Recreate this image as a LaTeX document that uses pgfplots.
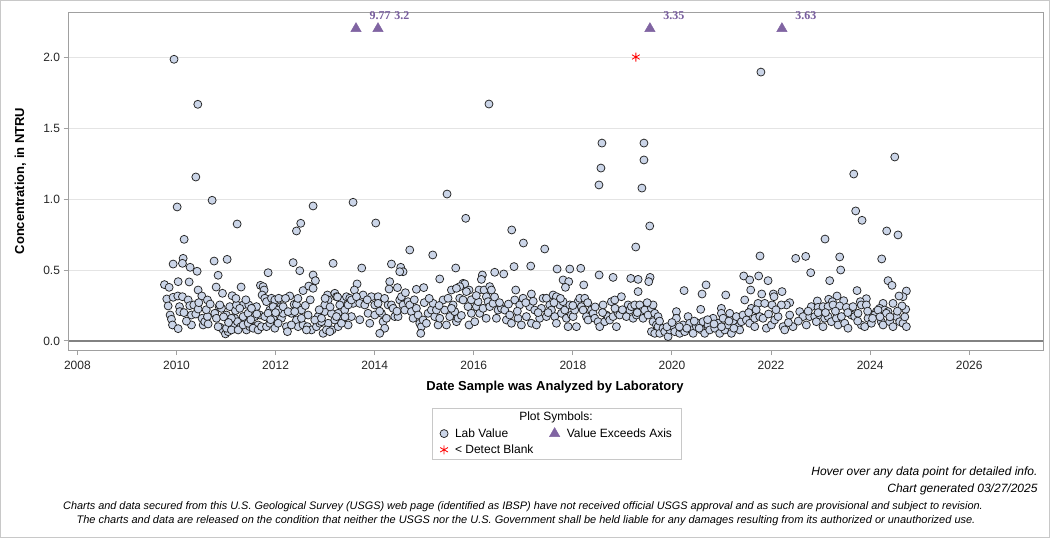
\documentclass[border=0pt]{standalone}
\usepackage{pgfplots}
\pgfplotsset{compat=1.18}
\usepackage{pgfplotstable}
\usepackage{fontspec}
\setmainfont{Liberation Sans}
\newfontfamily\serifbold{Liberation Serif}

\definecolor{labfill}{RGB}{203,213,232}
\definecolor{labedge}{RGB}{35,35,35}
\definecolor{exceed}{RGB}{128,100,162}
\definecolor{exceedtxt}{RGB}{120,94,158}
\definecolor{framegray}{RGB}{160,160,160}
\definecolor{gridgray}{RGB}{228,228,228}
\definecolor{zerogray}{RGB}{130,130,130}
\definecolor{boxgray}{RGB}{200,200,200}

% Lab values: decimal year of analysis, concentration (NTRU)
\pgfplotstableread{
year conc
2009.757 0.397
2009.851 0.378
2009.804 0.296
2009.831 0.247
2009.871 0.183
2009.898 0.153
2009.919 0.113
2009.932 0.308
2009.932 0.542
2009.950 1.984
2010.033 0.418
2010.026 0.317
2010.060 0.242
2010.067 0.207
2010.033 0.087
2010.013 0.944
2010.134 0.582
2010.120 0.547
2010.120 0.312
2010.154 0.716
2010.235 0.289
2010.255 0.416
2010.268 0.249
2010.302 0.183
2010.302 0.113
2010.275 0.519
2010.349 0.254
2010.416 0.491
2010.389 0.190
2010.390 1.155
2010.430 1.667
2010.436 0.225
2010.436 0.359
2010.511 0.317
2010.517 0.160
2010.538 0.113
2010.571 0.136
2010.625 0.289
2010.625 0.172
2010.638 0.120
2010.719 0.991
2010.759 0.563
2010.773 0.195
2010.800 0.380
2010.806 0.160
2010.840 0.463
2010.860 0.242
2010.880 0.097
2010.907 0.230
2010.928 0.336
2010.941 0.078
2010.988 0.050
2011.022 0.575
2011.042 0.066
2011.076 0.242
2011.123 0.319
2011.143 0.101
2011.176 0.160
2011.190 0.214
2011.224 0.824
2011.230 0.136
2011.298 0.101
2011.304 0.380
2011.345 0.254
2011.378 0.160
2011.412 0.078
2011.459 0.254
2011.479 0.101
2011.553 0.172
2011.580 0.101
2011.614 0.242
2011.647 0.113
2011.694 0.392
2011.748 0.383
2011.768 0.359
2011.728 0.324
2011.782 0.301
2011.816 0.277
2011.849 0.481
2011.883 0.218
2011.917 0.301
2011.950 0.160
2011.984 0.289
2012.064 0.301
2012.105 0.242
2012.118 0.160
2012.152 0.195
2012.219 0.101
2012.239 0.066
2012.286 0.317
2012.320 0.195
2012.354 0.552
2012.374 0.258
2012.421 0.258
2012.421 0.775
2012.421 0.148
2012.488 0.495
2012.508 0.829
2012.455 0.101
2012.555 0.113
2012.555 0.355
2012.522 0.218
2012.643 0.101
2012.670 0.387
2012.724 0.078
2012.757 0.951
2012.757 0.465
2012.757 0.371
2012.804 0.425
2012.824 0.101
2012.858 0.172
2012.892 0.125
2012.959 0.054
2012.993 0.207
2013.060 0.125
2013.047 0.324
2013.060 0.289
2013.141 0.078
2013.161 0.547
2013.195 0.148
2013.195 0.336
2013.228 0.312
2013.262 0.195
2013.329 0.289
2013.363 0.160
2013.430 0.312
2013.464 0.113
2013.497 0.301
2013.531 0.172
2013.565 0.265
2010.840 0.101
2011.008 0.090
2011.109 0.078
2011.244 0.078
2011.345 0.113
2011.446 0.125
2011.546 0.090
2011.647 0.078
2011.715 0.101
2011.816 0.101
2011.883 0.125
2011.984 0.090
2012.051 0.125
2012.320 0.113
2012.623 0.078
2012.926 0.136
2013.026 0.078
2013.094 0.066
2013.262 0.101
2013.329 0.125
2010.874 0.254
2011.008 0.183
2011.109 0.160
2011.210 0.254
2011.277 0.230
2011.345 0.172
2011.446 0.195
2011.513 0.230
2011.580 0.172
2011.681 0.183
2011.782 0.172
2011.849 0.195
2011.950 0.242
2012.051 0.218
2012.152 0.242
2012.253 0.207
2012.387 0.207
2012.522 0.160
2012.656 0.183
2012.791 0.148
2012.926 0.160
2012.993 0.254
2013.127 0.195
2013.228 0.172
2013.295 0.254
2013.396 0.218
2013.464 0.254
2013.564 0.977
2014.022 0.831
2015.461 1.035
2015.838 0.864
2016.307 1.669
2016.766 0.782
2017.002 0.690
2017.432 0.648
2014.708 0.641
2015.172 0.606
2014.338 0.542
2014.526 0.519
2014.573 0.488
2014.506 0.488
2013.739 0.514
2015.636 0.514
2016.813 0.524
2017.150 0.528
2016.423 0.484
2016.605 0.472
2016.174 0.465
2016.154 0.434
2015.313 0.437
2014.304 0.418
2014.291 0.366
2013.645 0.402
2013.591 0.359
2014.842 0.364
2014.990 0.376
2014.459 0.376
2015.784 0.406
2015.818 0.402
2015.717 0.383
2015.549 0.359
2015.650 0.371
2015.905 0.359
2016.107 0.359
2016.208 0.359
2016.322 0.383
2016.356 0.359
2016.847 0.359
2017.163 0.331
2017.399 0.301
2013.766 0.324
2013.934 0.312
2014.069 0.312
2014.002 0.254
2013.531 0.289
2013.632 0.312
2013.699 0.265
2013.800 0.254
2013.867 0.195
2013.901 0.125
2014.002 0.183
2014.069 0.265
2014.136 0.195
2014.170 0.136
2014.203 0.090
2014.102 0.054
2014.237 0.160
2014.271 0.254
2014.338 0.254
2014.372 0.230
2014.405 0.172
2014.472 0.172
2014.506 0.289
2014.540 0.312
2014.573 0.254
2014.607 0.218
2014.674 0.277
2014.708 0.254
2014.741 0.207
2014.775 0.160
2014.842 0.230
2014.876 0.183
2014.910 0.125
2014.943 0.101
2014.930 0.054
2014.977 0.148
2015.044 0.125
2015.078 0.195
2015.145 0.218
2015.179 0.265
2015.212 0.172
2015.246 0.218
2015.280 0.113
2015.313 0.160
2015.381 0.289
2015.414 0.218
2015.448 0.113
2015.481 0.301
2015.515 0.172
2015.582 0.254
2015.616 0.207
2015.650 0.136
2015.683 0.160
2015.717 0.301
2015.784 0.289
2015.851 0.348
2015.885 0.242
2015.905 0.113
2015.952 0.195
2016.020 0.136
2016.053 0.242
2016.087 0.277
2016.120 0.195
2016.188 0.230
2016.255 0.312
2016.289 0.277
2016.322 0.242
2016.390 0.265
2016.457 0.160
2016.490 0.218
2016.558 0.230
2016.625 0.218
2016.659 0.148
2016.726 0.183
2016.760 0.125
2016.827 0.289
2016.894 0.160
2016.928 0.254
2016.961 0.113
2016.995 0.301
2017.062 0.172
2017.130 0.242
2017.163 0.125
2017.230 0.218
2017.264 0.113
2017.331 0.160
2017.365 0.230
2017.466 0.172
2018.527 1.099
2018.567 1.218
2018.587 1.394
2019.435 1.394
2019.435 1.275
2019.394 1.077
2019.552 0.810
2019.270 0.662
2017.682 0.507
2017.938 0.507
2018.160 0.512
2017.803 0.430
2017.917 0.418
2017.850 0.378
2018.220 0.395
2018.530 0.465
2018.812 0.448
2019.169 0.441
2019.317 0.434
2019.559 0.448
2019.532 0.418
2019.317 0.348
2020.245 0.355
2020.689 0.395
2020.608 0.331
2021.086 0.324
2020.581 0.223
2020.998 0.230
2017.467 0.301
2017.534 0.254
2017.601 0.324
2017.668 0.312
2017.568 0.218
2017.635 0.172
2017.668 0.125
2017.736 0.254
2017.769 0.195
2017.803 0.277
2017.837 0.218
2017.870 0.160
2017.904 0.101
2017.938 0.254
2017.971 0.183
2018.005 0.172
2018.038 0.218
2018.072 0.101
2018.106 0.277
2018.139 0.301
2018.173 0.242
2018.207 0.218
2018.240 0.301
2018.274 0.172
2018.308 0.148
2018.375 0.218
2018.408 0.195
2018.442 0.160
2018.509 0.136
2018.543 0.101
2018.610 0.254
2018.644 0.136
2018.677 0.183
2018.711 0.172
2018.745 0.148
2018.778 0.277
2018.812 0.172
2018.846 0.289
2018.879 0.101
2018.913 0.195
2018.946 0.183
2018.980 0.312
2019.081 0.172
2019.115 0.254
2019.148 0.218
2019.182 0.242
2019.216 0.160
2019.249 0.254
2019.283 0.183
2019.350 0.254
2019.384 0.207
2019.417 0.160
2019.451 0.218
2019.518 0.183
2019.586 0.230
2019.619 0.254
2019.619 0.136
2019.653 0.195
2019.687 0.113
2019.720 0.172
2019.586 0.066
2019.653 0.054
2019.720 0.101
2019.754 0.054
2019.821 0.090
2019.855 0.066
2019.922 0.031
2019.956 0.078
2020.023 0.101
2020.057 0.066
2020.090 0.207
2020.090 0.160
2020.157 0.054
2020.191 0.090
2020.225 0.113
2020.258 0.066
2020.326 0.172
2020.359 0.125
2020.393 0.078
2020.427 0.054
2020.494 0.101
2020.527 0.125
2020.595 0.078
2020.628 0.136
2020.662 0.054
2020.729 0.113
2020.763 0.078
2020.830 0.160
2020.864 0.090
2020.931 0.125
2020.965 0.054
2020.998 0.195
2021.032 0.160
2021.066 0.078
2021.133 0.113
2021.167 0.195
2021.200 0.054
2021.234 0.136
2021.301 0.172
2021.335 0.101
2021.368 0.078
2021.402 0.136
2021.796 1.894
2023.670 1.176
2024.498 1.296
2023.709 0.916
2023.837 0.850
2024.335 0.775
2024.563 0.747
2023.090 0.718
2021.778 0.599
2022.498 0.582
2022.700 0.596
2023.386 0.592
2024.234 0.578
2023.406 0.500
2022.801 0.481
2023.184 0.425
2021.449 0.458
2021.570 0.430
2021.751 0.458
2021.940 0.425
2021.590 0.359
2021.469 0.289
2021.812 0.331
2022.047 0.331
2022.061 0.312
2022.222 0.348
2024.362 0.425
2024.442 0.392
2023.736 0.355
2023.924 0.298
2023.332 0.317
2022.935 0.282
2023.164 0.294
2023.238 0.277
2023.467 0.284
2024.732 0.352
2024.664 0.312
2024.584 0.317
2024.718 0.223
2024.644 0.247
2024.261 0.265
2024.462 0.265
2023.803 0.277
2022.377 0.270
2022.310 0.254
2022.209 0.254
2021.738 0.265
2021.873 0.265
2022.021 0.254
2021.603 0.230
2022.814 0.242
2022.949 0.237
2023.050 0.242
2023.151 0.242
2023.252 0.254
2023.386 0.247
2023.521 0.237
2023.655 0.242
2023.823 0.254
2023.924 0.254
2024.126 0.207
2024.193 0.230
2024.294 0.218
2024.362 0.207
2021.435 0.183
2021.503 0.148
2021.570 0.125
2021.671 0.160
2021.671 0.101
2021.772 0.172
2021.839 0.160
2021.906 0.090
2022.007 0.113
2022.074 0.148
2022.142 0.172
2022.243 0.101
2022.276 0.078
2022.377 0.183
2022.444 0.101
2022.579 0.207
2022.646 0.172
2022.713 0.113
2022.781 0.172
2022.882 0.172
2022.915 0.136
2023.050 0.101
2022.982 0.183
2023.083 0.160
2023.151 0.172
2023.218 0.136
2023.319 0.160
2023.352 0.113
2023.420 0.172
2023.487 0.125
2023.554 0.090
2023.622 0.183
2023.689 0.172
2023.756 0.195
2023.823 0.113
2023.891 0.101
2023.958 0.160
2024.025 0.125
2024.092 0.183
2024.160 0.218
2024.227 0.136
2024.261 0.113
2024.328 0.195
2024.395 0.136
2024.462 0.101
2024.530 0.172
2024.597 0.136
2024.664 0.125
2024.732 0.101
2010.150 0.200
2010.200 0.140
2010.450 0.270
2010.600 0.220
2010.680 0.260
2010.950 0.170
2011.050 0.130
2011.200 0.300
2011.400 0.290
2011.500 0.150
2011.620 0.190
2011.900 0.150
2012.000 0.200
2012.200 0.300
2012.450 0.300
2012.600 0.250
2012.700 0.290
2012.880 0.220
2013.000 0.300
2013.100 0.240
2013.250 0.310
2013.400 0.170
2013.700 0.150
2013.850 0.290
2014.100 0.210
2014.200 0.300
2014.450 0.210
2014.620 0.340
2014.800 0.290
2015.000 0.270
2015.100 0.300
2015.300 0.250
2015.550 0.230
2015.750 0.180
2015.950 0.290
2016.050 0.320
2016.250 0.160
2016.420 0.310
2016.520 0.270
2016.700 0.260
2016.880 0.210
2017.050 0.270
2017.200 0.280
2017.300 0.200
2017.500 0.200
2017.620 0.270
2017.750 0.300
2018.000 0.250
2018.300 0.270
2018.450 0.240
2018.600 0.200
2018.850 0.230
2019.000 0.220
2019.300 0.200
2019.500 0.270
2019.750 0.140
2019.900 0.100
2020.000 0.130
2020.150 0.100
2020.300 0.090
2020.450 0.140
2020.550 0.090
2020.720 0.150
2020.850 0.120
2021.000 0.100
2021.150 0.140
2021.250 0.090
2021.550 0.200
2021.700 0.220
2021.950 0.190
2022.100 0.220
2022.350 0.130
2022.550 0.140
2022.750 0.210
2022.950 0.200
2023.100 0.200
2023.300 0.210
2023.550 0.200
2023.750 0.140
2023.950 0.210
2024.050 0.160
2024.200 0.170
2024.400 0.170
2024.550 0.210
2024.700 0.170
}\labvalues

% Results above the axis maximum: drawn at the cap, labelled with the value
\pgfplotstableread{
year value
2013.623 9.77
2014.067 3.2
2019.556 3.35
2022.220 3.63
}\exceedvalues

% Results below the detection limit of the blank
\pgfplotstableread{
year conc
2019.272 2.0
}\blankvalues

\begin{document}
\begin{tikzpicture}
\fill[white] (0pt,0pt) rectangle (1056pt,538pt);
\draw[color=boxgray] (0.5pt,0.5pt) rectangle (1049.5pt,537.5pt);
\begin{axis}[
  at={(68.5pt,188pt)}, anchor=south west,
  scale only axis, width=974.5pt, height=337.7pt,
  xmin=2007.82, xmax=2027.49, ymin=-0.0634, ymax=2.315,
  clip=false,
  axis line style={framegray, line width=1pt},
  tick pos=left, tick align=outside,
  major tick length=5pt,
  tick style={framegray, line width=1pt},
  xtick={2008,2010,...,2026},
  ytick={0,0.5,1,1.5,2},
  ymajorgrids, grid style={gridgray, line width=1pt},
  /pgf/number format/assume math mode=true,
  tick label style={font=\fontsize{12}{14}\selectfont, text=black!85},
  xticklabel style={/pgf/number format/1000 sep={}, yshift=-3pt},
  yticklabel style={/pgf/number format/.cd, fixed, fixed zerofill, precision=1},
  legend columns=2,
  legend style={
    at={(0.378,-0.220)}, anchor=north west,
    draw=none, fill=none,
    font=\fontsize{12}{14}\selectfont,
    nodes={inner sep=2pt},
    /tikz/every odd column/.append style={column sep=5pt},
    /tikz/every even column/.append style={column sep=14pt},
    row sep=2pt,
  },
  legend cell align=left,
]
\draw[zerogray, line width=2pt] (axis cs:2007.82,0) -- (axis cs:2027.49,0);

\addplot[only marks, mark=*, mark size=4pt,
  mark options={fill=labfill, draw=labedge, line width=0.75pt}]
  table[x=year, y=conc] {\labvalues};
\addlegendentry{Lab Value}

\addplot[only marks, mark=triangle*, mark size=6pt,
  mark options={fill=exceed, draw=exceed},
  nodes near coords, point meta=explicit symbolic,
  every node near coord/.append style={
    font=\serifbold\bfseries\fontsize{12}{14}\selectfont,
    text=exceedtxt, anchor=center, xshift=24pt, yshift=12.6pt}]
  table[x=year, y expr={min(\thisrow{value},2.2)}, meta=value] {\exceedvalues};
\addlegendentry{Value Exceeds Axis}

\addplot[only marks, mark=asterisk, mark size=4.5pt,
  mark options={draw=red, line width=0.8pt}]
  table[x=year, y=conc] {\blankvalues};
\addlegendentry{< Detect Blank}
\end{axis}

% axis titles
\node[rotate=90, font=\bfseries\fontsize{13}{15}\selectfont] at (20.5pt,357pt) {Concentration, in NTRU};
\node[font=\bfseries\fontsize{13}{15}\selectfont] at (555pt,151pt) {Date Sample was Analyzed by Laboratory};

% legend frame and heading
\draw[boxgray] (432pt,79pt) rectangle (681pt,130pt);
\node[font=\fontsize{12}{14}\selectfont] at (556pt,121pt) {Plot Symbols:};

% footer notes
\node[anchor=east, font=\itshape\fontsize{12}{14}\selectfont] at (1041pt,66pt) {Hover over any data point for detailed info.};
\node[anchor=east, font=\itshape\fontsize{12}{14}\selectfont] at (1041pt,49pt) {Chart generated 03/27/2025};
\node[font=\itshape\fontsize{10.9}{13}\selectfont] at (523pt,31pt) {Charts and data secured from this U.S. Geological Survey (USGS) web page (identified as IBSP) have not received official USGS approval and as such are provisional and subject to revision.};
\node[font=\itshape\fontsize{11}{13}\selectfont] at (526pt,17pt) {The charts and data are released on the condition that neither the USGS nor the U.S. Government shall be held liable for any damages resulting from its authorized or unauthorized use.};
\end{tikzpicture}
\end{document}
